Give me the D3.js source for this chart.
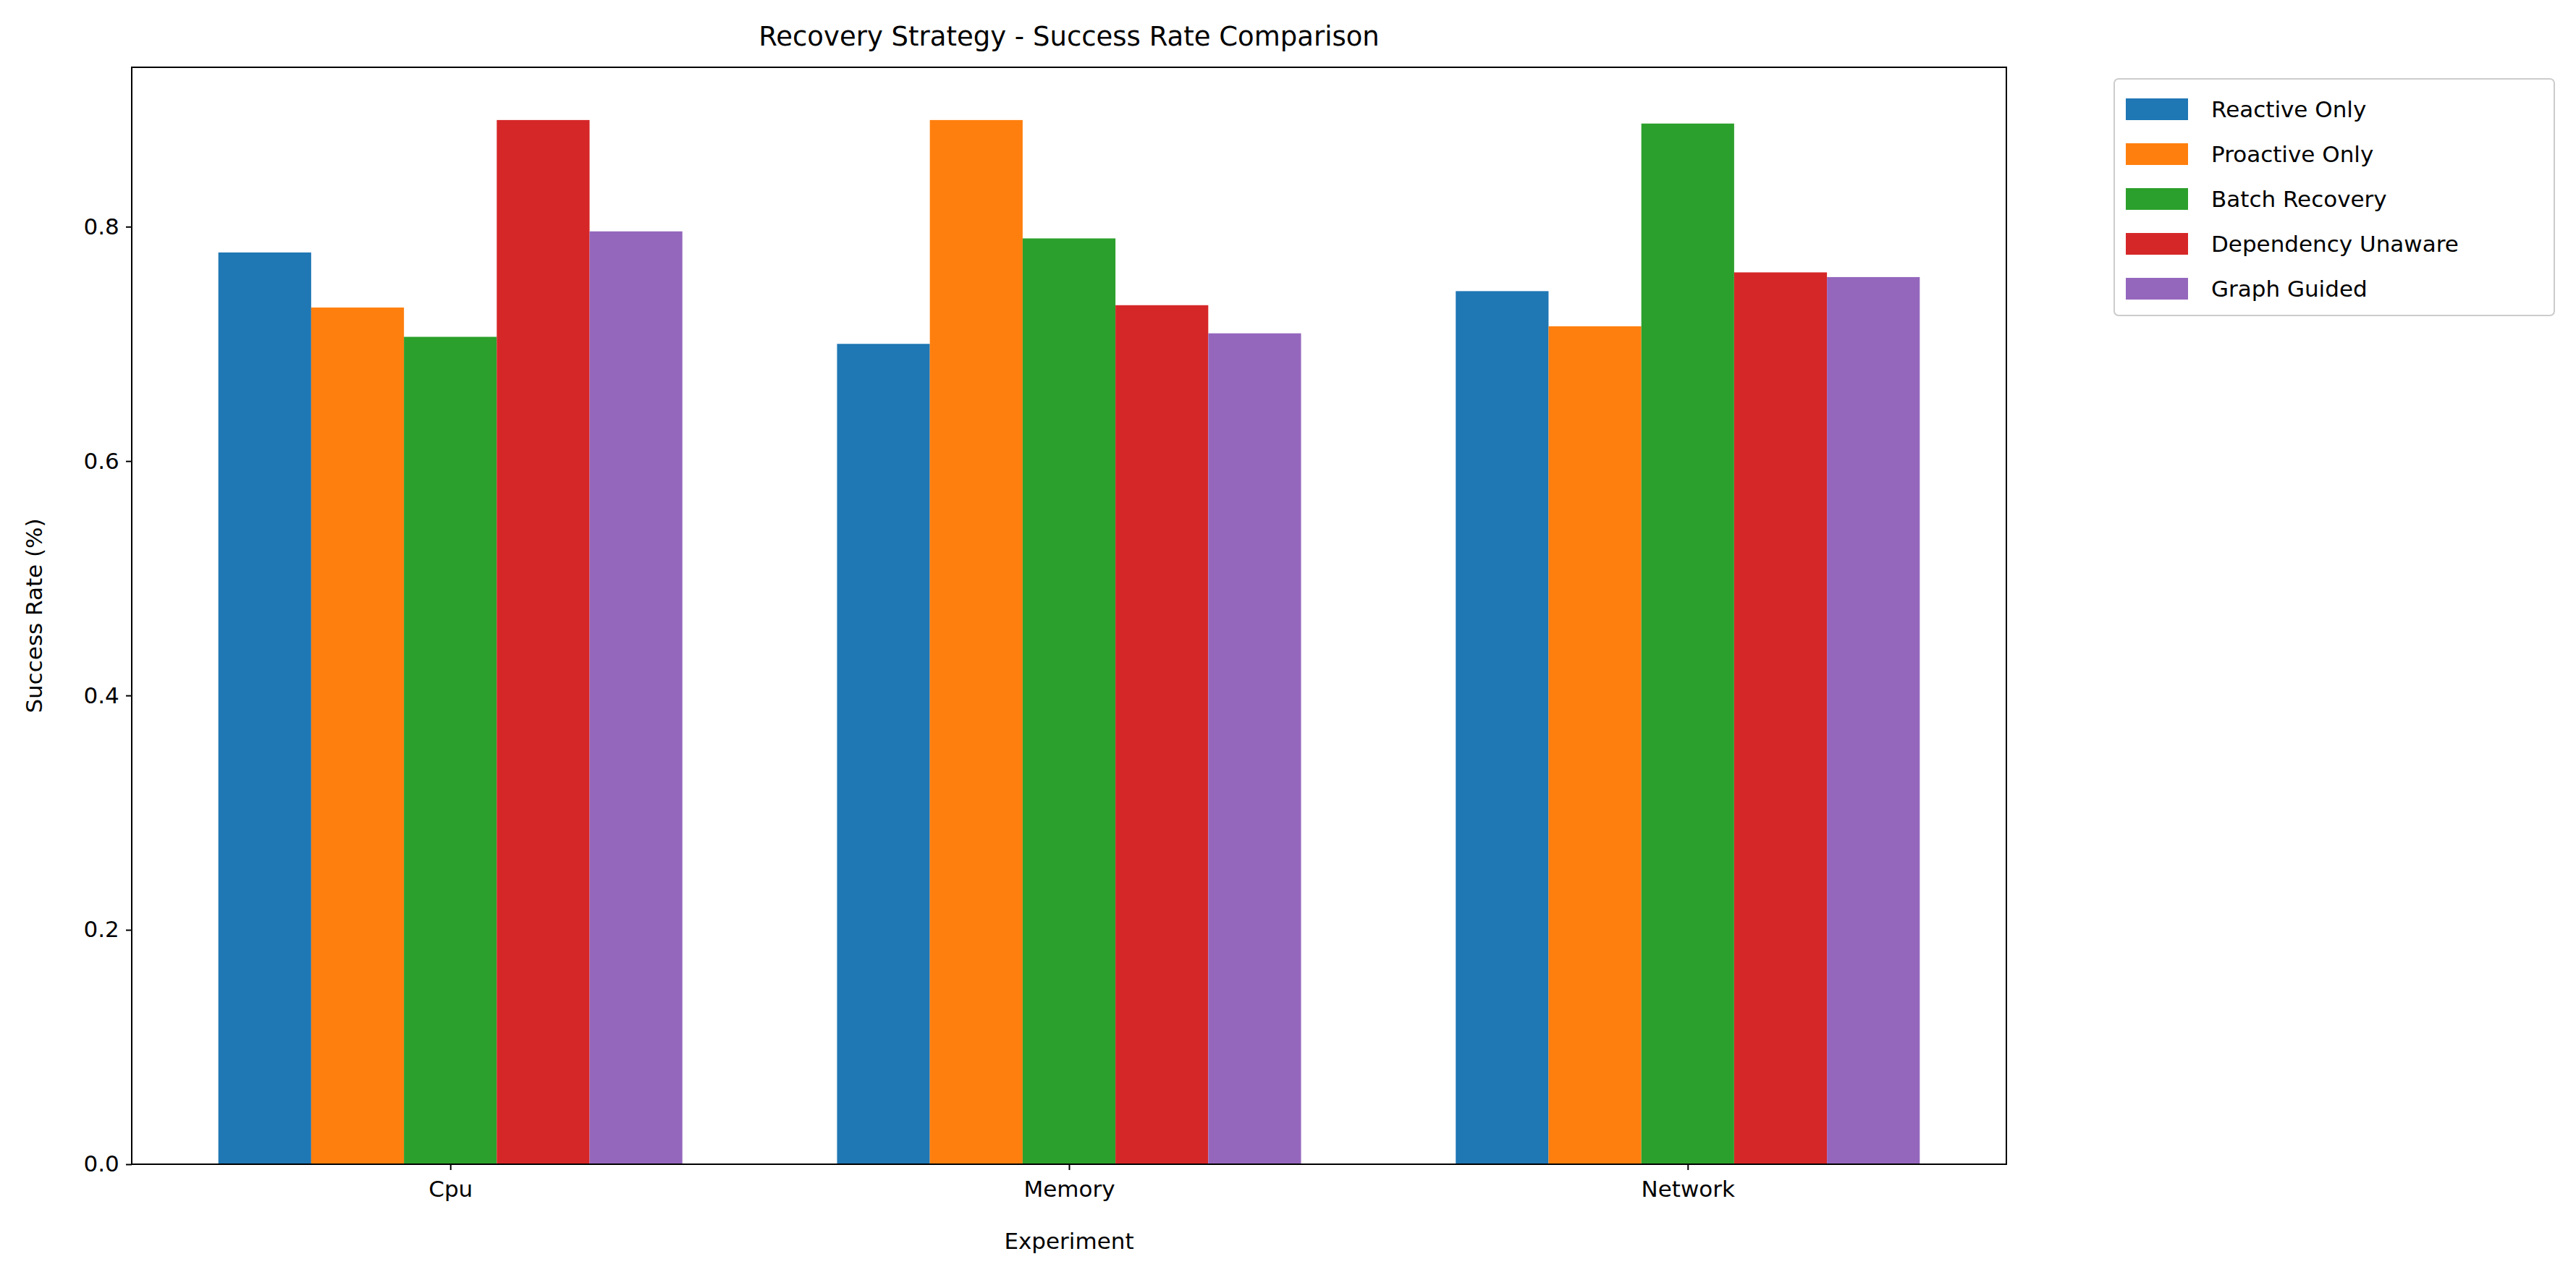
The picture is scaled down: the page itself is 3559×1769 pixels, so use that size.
<!DOCTYPE html>
<html><head><meta charset="utf-8">
<script src="https://cdn.jsdelivr.net/npm/d3@7"></script>
<style>body{margin:0;background:#fff}text{font-family:"DejaVu Sans",sans-serif}</style>
</head><body>
<script>
// chart data
const experiments = ["Cpu", "Memory", "Network"];
const strategies = ["Reactive Only", "Proactive Only", "Batch Recovery", "Dependency Unaware", "Graph Guided"];
const colors = ["#1f77b4", "#ff7f0e", "#2ca02c", "#d62728", "#9467bd"];
const reactiveOnly = [0.778, 0.700, 0.745];
const proactiveOnly = [0.731, 0.891, 0.715];
const batchRecovery = [0.706, 0.790, 0.888];
const dependencyUnaware = [0.891, 0.733, 0.761];
const graphGuided = [0.796, 0.709, 0.757];
const series = [reactiveOnly, proactiveOnly, batchRecovery, dependencyUnaware, graphGuided];
const yTicks = [0, 0.2, 0.4, 0.6, 0.8];

const W = 3559, H = 1769;
const m = {left: 182, right: 2772, top: 93, bottom: 1609};
const svg = d3.select("body").append("svg").attr("width", W).attr("height", H);

const x = d3.scaleLinear().domain([-0.515, 2.515]).range([m.left, m.right]);
const y = d3.scaleLinear().domain([0, 0.936]).range([m.bottom, m.top]);
const barW = 0.15;

series.forEach((vals, i) => {
    svg.append("g").selectAll("rect").data(vals).join("rect")
        .attr("x", (d, j) => x(j + (i - 2.5) * barW))
        .attr("width", x(barW) - x(0))
        .attr("y", d => y(d))
        .attr("height", d => y(0) - y(d))
        .attr("fill", colors[i]);
});

const xAxis = svg.append("g").attr("transform", `translate(0,${m.bottom})`)
    .call(d3.axisBottom(x).tickValues([0, 1, 2]).tickFormat(i => experiments[i]).tickSize(8).tickSizeOuter(0));
const yAxis = svg.append("g").attr("transform", `translate(${m.left},0)`)
    .call(d3.axisLeft(y).tickValues(yTicks).tickFormat(d3.format(".1f")).tickSize(8).tickSizeOuter(0));
[xAxis, yAxis].forEach(a => {
    a.select(".domain").remove();
    a.selectAll("line").attr("stroke-width", 2);
    a.selectAll("text").attr("font-size", 31).attr("fill", "#000");
});
xAxis.selectAll("text").attr("dy", "1.1em");
yAxis.selectAll("text").attr("dx", "-0.2em");

svg.append("rect").attr("x", m.left).attr("y", m.top)
    .attr("width", m.right - m.left).attr("height", m.bottom - m.top)
    .attr("fill", "none").attr("stroke", "#000").attr("stroke-width", 2);

svg.append("text").attr("x", (m.left + m.right) / 2).attr("y", 63)
    .attr("text-anchor", "middle").attr("font-size", 37).text("Recovery Strategy - Success Rate Comparison");
svg.append("text").attr("x", (m.left + m.right) / 2).attr("y", 1726)
    .attr("text-anchor", "middle").attr("font-size", 31).text("Experiment");
svg.append("text").attr("transform", `translate(58,${(m.top + m.bottom) / 2}) rotate(-90)`)
    .attr("text-anchor", "middle").attr("font-size", 31).text("Success Rate (%)");

// legend
const lg = svg.append("g").attr("transform", "translate(2921,109)");
lg.append("rect").attr("width", 608).attr("height", 327).attr("rx", 6)
    .attr("fill", "#fff").attr("stroke", "#ccc").attr("stroke-width", 2);
strategies.forEach((s, i) => {
    const g = lg.append("g").attr("transform", `translate(16,${41 + i * 62})`);
    g.append("rect").attr("y", -14).attr("width", 86).attr("height", 30).attr("fill", colors[i]);
    g.append("text").attr("x", 118).attr("y", 1).attr("dy", "0.35em").attr("font-size", 31).text(s);
});
</script>
</body></html>
